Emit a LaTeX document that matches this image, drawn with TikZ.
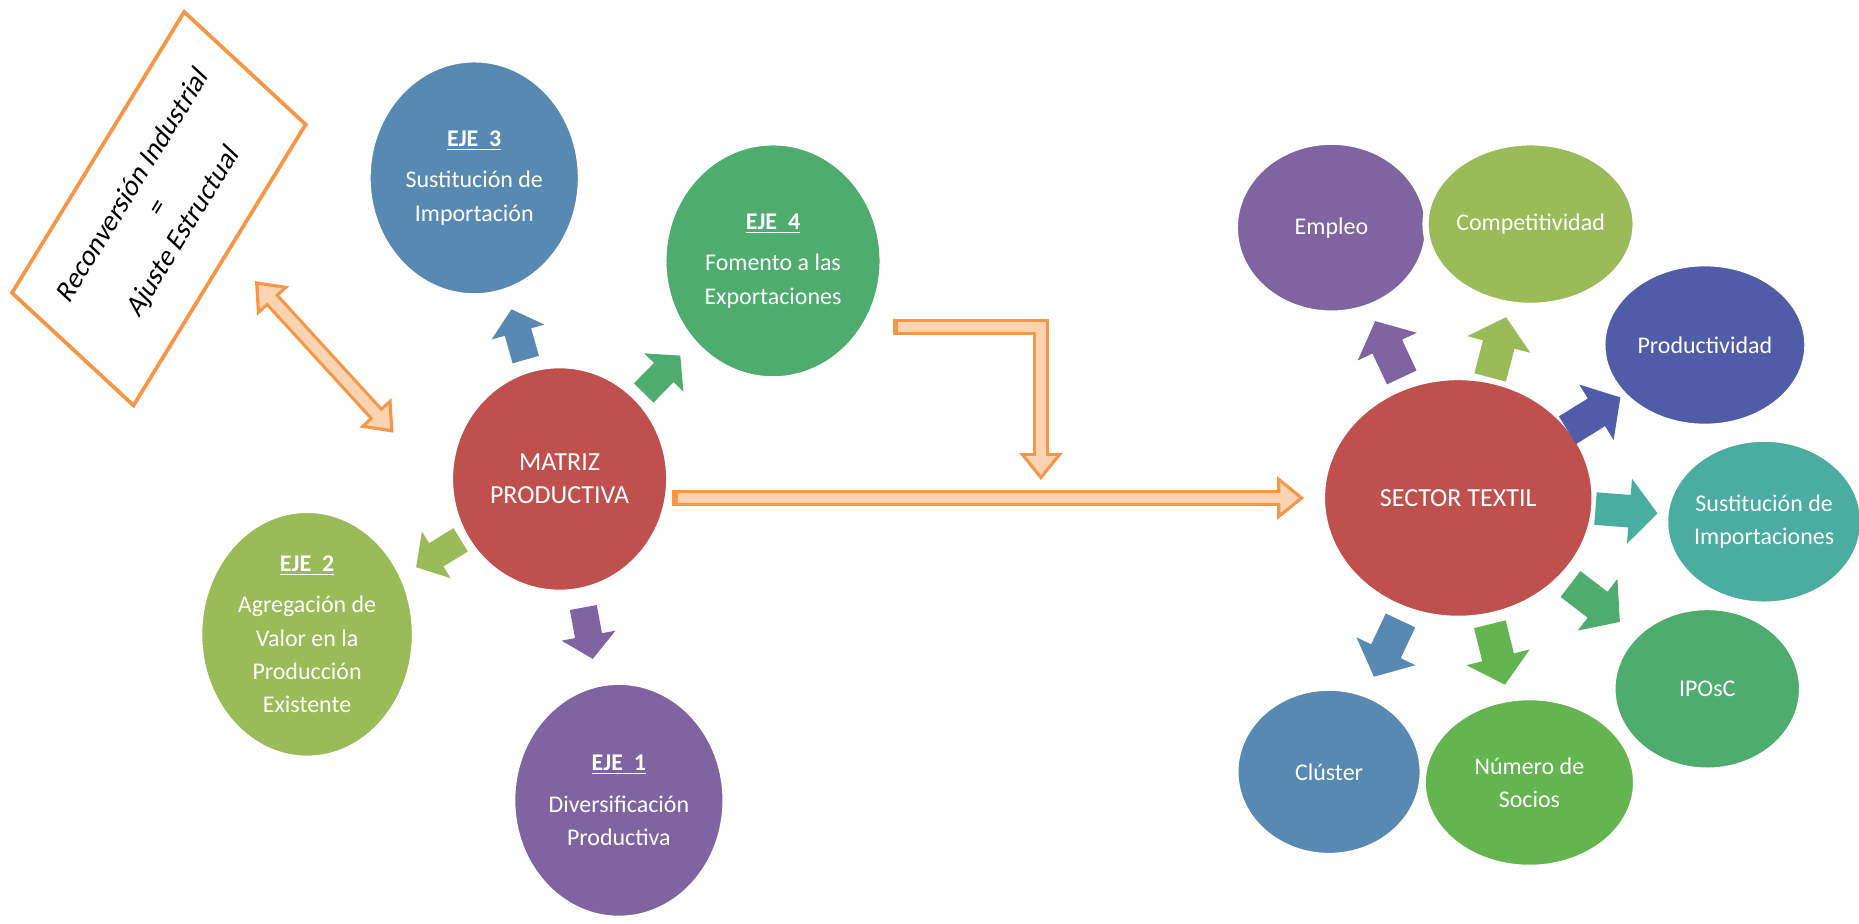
\documentclass[tikz,border=0pt]{standalone}
\usepackage{fontspec}
\setmainfont{Carlito}
\usetikzlibrary{shapes.geometric,shadows,arrows.meta,calc}

\definecolor{rojo}{RGB}{192,80,77}
\definecolor{azul}{RGB}{88,137,178}
\definecolor{verde}{RGB}{78,172,110}
\definecolor{lima}{RGB}{155,187,89}
\definecolor{morado}{RGB}{128,100,162}
\definecolor{indigo}{RGB}{80,92,168}
\definecolor{turquesa}{RGB}{75,172,160}
\definecolor{pasto}{RGB}{100,180,80}
\definecolor{naranja}{RGB}{247,150,70}
\definecolor{durazno}{RGB}{252,212,178}

\tikzset{
	bola/.style={ellipse, draw=white, line width=3pt, text=white, align=center, inner sep=0pt,
		font=\fontsize{11.5}{16}\selectfont,
		drop shadow={shadow xshift=0.8pt, shadow yshift=-1pt, opacity=0.3}},
	grande/.style={bola, font=\fontsize{12.5}{16}\selectfont},
	caja/.style={draw=naranja, line width=1.8pt, fill=white, align=center, inner sep=0pt,
		font=\fontsize{13.5}{16}\selectfont},
	flecha/.style={draw=naranja, line width=8pt},
	relleno/.style={draw=durazno, line width=5pt, shorten >=2.5pt, shorten <=2.5pt},
	puntaA/.tip={Triangle[length=13pt,width=20pt]},
	puntaB/.tip={Triangle[length=9pt,width=13.9pt]},
	pics/bloque/.style={code={\path[pic actions] (-21,-11) -- (2,-11) -- (2,-22) -- (21,0) -- (2,22) -- (2,11) -- (-21,11) -- cycle;}}
}
\newcommand{\eje}[1]{\textbf{\underline{EJE~~#1}}\\[4pt]}

\begin{document}
\begin{tikzpicture}[x=0.02cm, y=0.02cm]
	\useasboundingbox (0,0) rectangle (1568,-779);
	% matriz productiva y sus ejes
	\node[grande, fill=rojo, minimum width=3.7cm, minimum height=3.84cm] (mp) at (472,-404) {MATRIZ\\PRODUCTIVA};
	\node[bola, fill=azul, minimum width=3.6cm, minimum height=4cm] (e3) at (400,-150) {\eje{3}Sustitución de\\Importación};
	\node[bola, fill=verde, minimum width=3.7cm, minimum height=4cm] (e4) at (652,-220) {\eje{4}Fomento a las\\Exportaciones};
	\node[bola, fill=lima, minimum width=3.64cm, minimum height=4.2cm] (e2) at (259,-535) {\eje{2}Agregación de\\Valor en la\\Producción\\Existente};
	\node[bola, fill=morado, minimum width=3.6cm, minimum height=4cm] (e1) at (522,-675) {\eje{1}Diversificación\\Productiva};
	\foreach \s/\c in {e3/azul, e4/verde, e2/lima, e1/morado}
		\path let \p1=($(\s)-(mp)$), \n1={atan2(\y1,\x1)} in ($(mp)!0.48!(\s)$) pic[rotate=\n1, fill=\c, scale=1.05] {bloque};
	
	% sector textil
	\node[grande, fill=rojo, minimum width=4.6cm, minimum height=4.08cm] (st) at (1230,-420) {SECTOR TEXTIL};
	\node[bola, fill=morado, minimum width=3.26cm, minimum height=2.9cm] (emp) at (1123,-192) {Empleo};
	\node[bola, fill=lima, minimum width=3.16cm, minimum height=2.76cm] (com) at (1291,-189) {Competitividad};
	\node[bola, fill=indigo, minimum width=3.46cm, minimum height=2.76cm] (pro) at (1438,-291) {Productividad};
	\node[bola, fill=turquesa, minimum width=3.1cm, minimum height=2.8cm] (sus) at (1488,-440) {Sustitución de\\Importaciones};
	\node[bola, fill=verde, minimum width=3.2cm, minimum height=2.76cm] (ipo) at (1440,-581) {IPOsC};
	\node[bola, fill=pasto, minimum width=3.6cm, minimum height=2.88cm] (num) at (1290,-660) {Número de\\Socios};
	\node[bola, fill=azul, minimum width=3.16cm, minimum height=2.84cm] (clu) at (1121,-651) {Clúster};
	\foreach \s/\c in {emp/morado, com/lima, pro/indigo, sus/turquesa, ipo/verde, num/pasto, clu/azul}
		\path let \p1=($(\s)-(st)$), \n1={atan2(\y1,\x1)} in ($(st)!0.55!(\s)$) pic[rotate=\n1, fill=\c, scale=1.25] {bloque};
	
	% recuadro
	\node[caja, rotate=58.5, xslant=0.2, minimum width=5.56cm, minimum height=2.74cm] (rc) at (134,-176) {Reconversión Industrial\\=\\Ajuste Estructual};
	
	% flechas naranjas
	\coordinate (d1) at (215,-237);
	\coordinate (d2) at (332,-365);
	\draw[flecha, puntaA-puntaA] (d1) -- (d2);
	\draw[relleno, puntaB-puntaB] (d1) -- (d2);
	\coordinate (e4out) at ($(e4.-35)+(21,0)$);
	\coordinate (drop) at (878,-405);
	\draw[flecha, -puntaA] (e4out) -| (drop);
	\draw[relleno, -puntaB] (e4out) -| (drop);
	\draw[flecha, -puntaA] (mp.east |- st.west) -- ([xshift=-7pt]st.west);
	\draw[relleno, -puntaB] (mp.east |- st.west) -- ([xshift=-7pt]st.west);
\end{tikzpicture}
\end{document}
